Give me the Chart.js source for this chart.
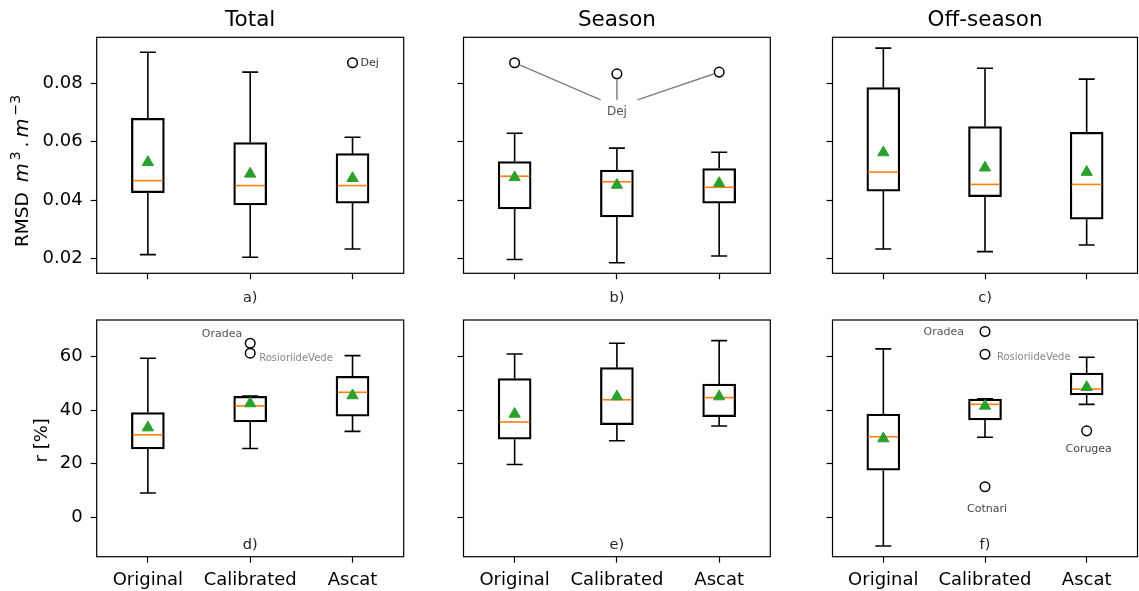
<!DOCTYPE html>
<html>
<head>
<meta charset="utf-8">
<script src="https://cdn.jsdelivr.net/npm/chart.js@4.4.0/dist/chart.umd.min.js"></script>
<style>
  body { margin: 0; background: #fff; }
  #wrap { position: relative; width: 1139px; height: 591px; overflow: hidden; }
  #wrap canvas { position: absolute; left: 0; top: 0; }
</style>
</head>
<body>
<div id="wrap">
  <canvas id="pa" width="1139" height="591"></canvas>
  <canvas id="pb" width="1139" height="591"></canvas>
  <canvas id="pc" width="1139" height="591"></canvas>
  <canvas id="pd" width="1139" height="591"></canvas>
  <canvas id="pe" width="1139" height="591"></canvas>
  <canvas id="pf" width="1139" height="591"></canvas>
</div>
<script>
const groups = ['Original', 'Calibrated', 'Ascat'];
const rmsdTicks = [0.02, 0.04, 0.06, 0.08];
const rTicks = [0, 20, 40, 60];

// a) total - RMSD
const totalRmsdLow  = [0.0214, 0.0205, 0.0233];
const totalRmsdQ1   = [0.0426, 0.0384, 0.0390];
const totalRmsdMed  = [0.0467, 0.0450, 0.0450];
const totalRmsdQ3   = [0.0680, 0.0597, 0.0559];
const totalRmsdHigh = [0.0906, 0.0838, 0.0615];
const totalRmsdMean = [0.0530, 0.0490, 0.0475];
const totalRmsdOutGroup = ['Ascat'];
const totalRmsdOutValue = [0.0870];
const totalRmsdOutName  = ['Dej'];

// b) season - RMSD
const seasonRmsdLow  = [0.0197, 0.0186, 0.0209];
const seasonRmsdQ1   = [0.0370, 0.0343, 0.0390];
const seasonRmsdMed  = [0.0482, 0.0463, 0.0444];
const seasonRmsdQ3   = [0.0532, 0.0503, 0.0508];
const seasonRmsdHigh = [0.0629, 0.0578, 0.0564];
const seasonRmsdMean = [0.0478, 0.0452, 0.0458];
const seasonRmsdOutGroup = ['Original', 'Calibrated', 'Ascat'];
const seasonRmsdOutValue = [0.0870, 0.0832, 0.0838];
const seasonRmsdOutName  = ['Dej', 'Dej', 'Dej'];

// c) off-season - RMSD
const offRmsdLow  = [0.0233, 0.0224, 0.0247];
const offRmsdQ1   = [0.0431, 0.0412, 0.0335];
const offRmsdMed  = [0.0496, 0.0454, 0.0454];
const offRmsdQ3   = [0.0785, 0.0652, 0.0632];
const offRmsdHigh = [0.0920, 0.0851, 0.0814];
const offRmsdMean = [0.0563, 0.0511, 0.0496];

// d) total - r
const totalRLow  = [9.1, 25.7, 32.1];
const totalRQ1   = [25.5, 35.6, 37.8];
const totalRMed  = [30.8, 41.6, 46.7];
const totalRQ3   = [39.1, 45.2, 52.7];
const totalRHigh = [59.4, 45.3, 60.4];
const totalRMean = [33.5, 42.5, 45.5];
const totalROutGroup = ['Calibrated', 'Calibrated'];
const totalROutValue = [65.0, 61.3];
const totalROutName  = ['Oradea', 'RosioriideVede'];

// e) season - r
const seasonRLow  = [19.7, 28.6, 34.1];
const seasonRQ1   = [29.2, 34.6, 37.6];
const seasonRMed  = [35.6, 43.9, 44.7];
const seasonRQ3   = [51.8, 55.9, 49.8];
const seasonRHigh = [61.0, 65.0, 66.0];
const seasonRMean = [38.6, 45.1, 45.1];

// f) off-season - r
const offRLow  = [-10.7, 29.9, 42.2];
const offRQ1   = [17.6, 36.4, 45.7];
const offRMed  = [30.1, 42.2, 47.9];
const offRQ3   = [38.6, 44.2, 53.9];
const offRHigh = [62.9, 44.3, 59.8];
const offRMean = [29.4, 41.6, 48.6];
const offROutGroup = ['Calibrated', 'Calibrated', 'Calibrated', 'Ascat'];
const offROutValue = [69.4, 60.9, 11.4, 32.3];
const offROutName  = ['Oradea', 'RosioriideVede', 'Cotnari', 'Corugea'];

// layout of the 2x3 grid (page pixels)
const colLeft = [96.7, 463.5, 832.5];
const colRight = [403.7, 770.3, 1137.5];
const rowTop = [37.3, 320];
const rowBottom = [273.3, 556.7];
const rowMin = [0.0150, -14.72];
const rowMax = [0.0957, 73.7];

const FONT = "'DejaVu Sans', sans-serif";
const LW = 1.6;

const boxExtras = {
  id: 'boxExtras',
  afterDatasetDraw(chart, args, o) {
    if (args.meta.type !== 'bar') return;
    const xs = chart.scales.x, ys = chart.scales.y, ctx = chart.ctx;
    const half = 16, cap = 8;
    ctx.save();
    ctx.lineWidth = LW;
    o.low.forEach((lo, i) => {
      const px = xs.getPixelForValue(i);
      const yl = ys.getPixelForValue(lo), yh = ys.getPixelForValue(o.high[i]);
      const y1 = ys.getPixelForValue(o.q1[i]), y3 = ys.getPixelForValue(o.q3[i]);
      ctx.strokeStyle = '#000';
      ctx.beginPath();
      ctx.moveTo(px, yl); ctx.lineTo(px, y1);
      ctx.moveTo(px, y3); ctx.lineTo(px, yh);
      ctx.moveTo(px - cap, yl); ctx.lineTo(px + cap, yl);
      ctx.moveTo(px - cap, yh); ctx.lineTo(px + cap, yh);
      ctx.stroke();
      const ym = ys.getPixelForValue(o.med[i]);
      ctx.strokeStyle = '#ff7f0e';
      ctx.beginPath();
      ctx.moveTo(px - half + 1, ym); ctx.lineTo(px + half - 1, ym);
      ctx.stroke();
    });
    ctx.restore();
  }
};

function drawRich(ctx, runs, x, y) {
  // rotated text, starting at (x, y) and going up the page
  ctx.save();
  ctx.translate(x, y);
  ctx.rotate(-Math.PI / 2);
  ctx.textBaseline = 'alphabetic';
  ctx.textAlign = 'left';
  ctx.fillStyle = '#000';
  let u = 0;
  runs.forEach(r => {
    ctx.font = r.font;
    ctx.fillText(r.text, u, -(r.rise || 0));
    u += ctx.measureText(r.text).width + (r.gap || 0);
  });
  ctx.restore();
}

const decor = {
  id: 'decor',
  afterDraw(chart, args, o) {
    const ctx = chart.ctx, a = chart.chartArea;
    const xs = chart.scales.x, ys = chart.scales.y;
    ctx.save();
    ctx.strokeStyle = '#000';
    ctx.lineWidth = 1.2;
    ctx.strokeRect(a.left, a.top, a.right - a.left, a.bottom - a.top);

    const cx = (a.left + a.right) / 2;
    ctx.fillStyle = '#000';
    ctx.textAlign = 'center';
    ctx.textBaseline = 'alphabetic';
    if (o.title) {
      ctx.font = '21.5px ' + FONT;
      ctx.fillText(o.title, cx, a.top - 11.3);
    }
    ctx.font = '14.5px ' + FONT;
    ctx.fillStyle = '#222';
    if (o.row === 0) ctx.fillText(o.tag, cx, a.bottom + 29);
    else ctx.fillText(o.tag, cx, a.bottom - 8);

    // outlier names
    (o.notes || []).forEach((n, i) => {
      const px = xs.getPixelForValue(groups.indexOf(o.outGroup[i]));
      const py = ys.getPixelForValue(o.outValue[i]);
      ctx.font = n.size + 'px ' + FONT;
      ctx.fillStyle = n.color;
      ctx.textAlign = n.align;
      ctx.textBaseline = 'middle';
      ctx.fillText(o.outName[i], px + n.dx, py + n.dy);
    });

    // one shared name with leader lines
    if (o.shared) {
      const s = o.shared;
      const lx = xs.getPixelForValue(groups.indexOf(s.group));
      const ly = ys.getPixelForValue(s.value);
      const tx = lx, ty = ly - 5;
      ctx.strokeStyle = '#808080';
      ctx.lineWidth = 1.5;
      ctx.beginPath();
      o.outValue.forEach((v, i) => {
        const px = xs.getPixelForValue(groups.indexOf(o.outGroup[i]));
        const py = ys.getPixelForValue(v);
        const dx = tx - px, dy = ty - py, len = Math.hypot(dx, dy);
        const sx = px + dx / len * 6, sy = py + dy / len * 6;
        const t = (ly - 12 - py) / dy;
        ctx.moveTo(sx, sy);
        ctx.lineTo(px + dx * t, py + dy * t);
      });
      ctx.stroke();
      ctx.font = s.size + 'px ' + FONT;
      ctx.fillStyle = s.color;
      ctx.textAlign = 'center';
      ctx.textBaseline = 'middle';
      ctx.fillText(s.text, lx, ly);
    }

    if (o.ylabel === 'rmsd') {
      const big = '18.5px ' + FONT, it = 'oblique 19.5px ' + FONT, sm = '14px ' + FONT;
      drawRich(ctx, [
        { text: 'RMSD ', font: big, gap: 4 },
        { text: 'm', font: it, gap: 3 },
        { text: '3', font: sm, rise: 8, gap: 4 },
        { text: '.', font: big, gap: 4 },
        { text: 'm', font: it, gap: 3 },
        { text: '\u22123', font: sm, rise: 8 }
      ], 28.3, 247);
    } else if (o.ylabel === 'r') {
      ctx.save();
      ctx.translate(47, (a.top + a.bottom) / 2 + 2);
      ctx.rotate(-Math.PI / 2);
      ctx.font = '18px ' + FONT;
      ctx.fillStyle = '#000';
      ctx.textAlign = 'center';
      ctx.textBaseline = 'alphabetic';
      ctx.fillText('r [%]', 0, 0);
      ctx.restore();
    }
    ctx.restore();
  }
};

function makePanel(id, row, col, stats, extra) {
  const W = 1139, H = 591, yW = 60, xH = row === 0 ? 30 : 34;
  const ticks = row === 0 ? rmsdTicks : rTicks;
  const outData = (extra.outGroup || []).map((g, i) => ({ x: g, y: extra.outValue[i] }));
  new Chart(document.getElementById(id), {
    type: 'bar',
    data: {
      labels: groups,
      datasets: [
        {
          type: 'bar',
          data: groups.map((g, i) => [stats.q1[i], stats.q3[i]]),
          backgroundColor: 'rgba(0,0,0,0)',
          borderColor: '#000',
          borderWidth: LW,
          borderSkipped: false,
          barThickness: 33,
          order: 3
        },
        {
          type: 'line',
          data: outData,
          showLine: false,
          pointStyle: 'circle',
          pointRadius: 4.8,
          pointBorderWidth: 1.5,
          pointBorderColor: '#000',
          pointBackgroundColor: 'rgba(255,255,255,0)',
          order: 2
        },
        {
          type: 'line',
          data: groups.map((g, i) => ({ x: g, y: stats.mean[i] })),
          showLine: false,
          pointStyle: 'triangle',
          pointRadius: 6.5,
          pointBorderWidth: 1,
          pointBorderColor: '#2ca02c',
          pointBackgroundColor: '#2ca02c',
          order: 1
        }
      ]
    },
    options: {
      responsive: false,
      animation: false,
      events: [],
      devicePixelRatio: 1,
      layout: {
        autoPadding: false,
        padding: {
          left: colLeft[col] - yW,
          right: W - colRight[col],
          top: rowTop[row],
          bottom: H - rowBottom[row] - xH
        }
      },
      scales: {
        x: {
          type: 'category',
          offset: true,
          grid: { display: true, drawOnChartArea: false, drawTicks: true, tickLength: 6, tickWidth: 1.2, tickColor: '#000', color: '#000', offset: false },
          border: { display: false },
          ticks: { display: row === 1, color: '#000', padding: 7, font: { family: FONT, size: 18 }, maxRotation: 0, autoSkip: false },
          afterFit: s => { s.height = xH; }
        },
        y: {
          min: rowMin[row],
          max: rowMax[row],
          grid: { display: true, drawOnChartArea: false, drawTicks: true, tickLength: 6, tickWidth: 1.2, tickColor: '#000', color: '#000' },
          border: { display: false },
          afterBuildTicks: s => { s.ticks = ticks.map(v => ({ value: v })); },
          ticks: {
            display: col === 0,
            color: '#000',
            padding: 8,
            font: { family: FONT, size: 18 },
            callback: v => row === 0 ? v.toFixed(2) : String(v)
          },
          afterFit: s => { s.width = yW; }
        }
      },
      plugins: {
        legend: { display: false },
        tooltip: { enabled: false },
        boxExtras: stats,
        decor: Object.assign({ row: row }, extra)
      }
    },
    plugins: [boxExtras, decor]
  });
}

makePanel('pa', 0, 0,
  { low: totalRmsdLow, q1: totalRmsdQ1, med: totalRmsdMed, q3: totalRmsdQ3, high: totalRmsdHigh, mean: totalRmsdMean },
  { title: 'Total', tag: 'a)', ylabel: 'rmsd',
    outGroup: totalRmsdOutGroup, outValue: totalRmsdOutValue, outName: totalRmsdOutName,
    notes: [{ dx: 8, dy: 0, align: 'left', color: '#333', size: 11 }] });

makePanel('pb', 0, 1,
  { low: seasonRmsdLow, q1: seasonRmsdQ1, med: seasonRmsdMed, q3: seasonRmsdQ3, high: seasonRmsdHigh, mean: seasonRmsdMean },
  { title: 'Season', tag: 'b)',
    outGroup: seasonRmsdOutGroup, outValue: seasonRmsdOutValue, outName: seasonRmsdOutName,
    shared: { text: 'Dej', group: 'Calibrated', value: 0.0702, color: '#555', size: 12 } });

makePanel('pc', 0, 2,
  { low: offRmsdLow, q1: offRmsdQ1, med: offRmsdMed, q3: offRmsdQ3, high: offRmsdHigh, mean: offRmsdMean },
  { title: 'Off-season', tag: 'c)' });

makePanel('pd', 1, 0,
  { low: totalRLow, q1: totalRQ1, med: totalRMed, q3: totalRQ3, high: totalRHigh, mean: totalRMean },
  { tag: 'd)', ylabel: 'r',
    outGroup: totalROutGroup, outValue: totalROutValue, outName: totalROutName,
    notes: [
      { dx: -8, dy: -9.6, align: 'right', color: '#555', size: 11 },
      { dx: 9, dy: 5, align: 'left', color: '#888', size: 10 }
    ] });

makePanel('pe', 1, 1,
  { low: seasonRLow, q1: seasonRQ1, med: seasonRMed, q3: seasonRQ3, high: seasonRHigh, mean: seasonRMean },
  { tag: 'e)' });

makePanel('pf', 1, 2,
  { low: offRLow, q1: offRQ1, med: offRMed, q3: offRQ3, high: offRHigh, mean: offRMean },
  { tag: 'f)',
    outGroup: offROutGroup, outValue: offROutValue, outName: offROutName,
    notes: [
      { dx: -21, dy: 1, align: 'right', color: '#555', size: 11 },
      { dx: 12, dy: 3.6, align: 'left', color: '#888', size: 10 },
      { dx: 2, dy: 22, align: 'center', color: '#444', size: 11 },
      { dx: 2, dy: 18, align: 'center', color: '#444', size: 11 }
    ] });
</script>
</body>
</html>
